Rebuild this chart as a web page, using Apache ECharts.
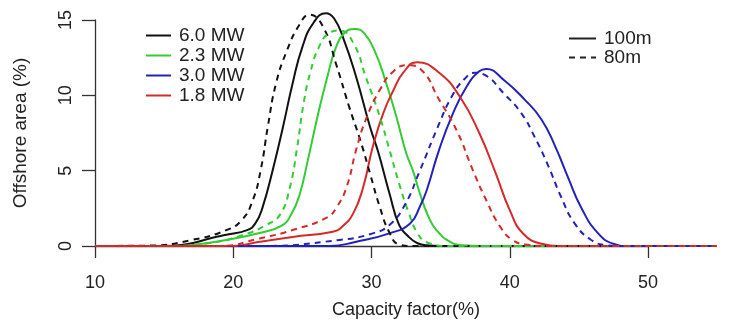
<!DOCTYPE html>
<html>
<head>
<meta charset="utf-8">
<script src="https://cdn.jsdelivr.net/npm/echarts@6/dist/echarts.min.js"></script>
<style>
  html, body {margin: 0; padding: 0; background: #fff;}
  #main {width: 735px; height: 320px;}
</style>
</head>
<body>
<div id="main"></div>
<script>
// turbine types (legend order) and hub heights
const turbines = ['6.0 MW', '2.3 MW', '3.0 MW', '1.8 MW'];
const heights = ['100m', '80m'];
const xTicks = [10, 20, 30, 40, 50];
const yTicks = [0, 5, 10, 15];

// [capacity factor %, offshore area %]
const mw60_100 = [[10,0],[15,0],[16.5,0.1],[18.5,0.55],[19.5,0.75],[21,1.05],[21.6,1.5],[22.1,2.5],[22.9,5.2],[23.6,7.9],[24.3,10.8],[25,13.2],[25.8,14.8],[26.7,15.45],[27.3,15.1],[28,13.7],[28.9,11.2],[29.9,7.9],[30.5,6.2],[31.3,3.5],[32,1.4],[32.6,0.7],[33.3,0.2],[34,0.05],[35,0],[55,0]];
const mw60_80 = [[10,0],[14,0.03],[17,0.4],[19.5,1.05],[20.6,1.7],[21.4,3.0],[22,5.1],[22.5,7.9],[23.1,10.8],[23.9,13.0],[24.8,14.7],[25.5,15.35],[26.5,14.55],[27.5,11.9],[28.4,9.2],[29.2,7.0],[29.9,4.8],[30.6,2.6],[31.3,0.9],[32,0.1],[33,0],[55,0]];
const mw23_100 = [[10,0],[16,0],[17.1,0.07],[19.5,0.4],[21.9,0.86],[23.5,1.35],[24.2,2.1],[24.8,3.4],[25.4,5.7],[26.1,8.6],[26.8,11.2],[27.4,13.1],[28,14.1],[28.8,14.4],[29.5,14.1],[30.3,12.8],[31,11.0],[31.8,8.6],[32.5,6.2],[33,5.0],[33.5,3.5],[34.1,2.0],[34.7,1.06],[35.7,0.28],[36.6,0.05],[38,0],[55,0]];
const mw23_80 = [[10,0],[15,0],[18.3,0.2],[20.7,0.73],[22.4,1.4],[23.4,2.1],[24.1,3.9],[24.6,6.4],[25.1,9.5],[25.6,11.6],[26.2,13.2],[26.9,14.1],[27.7,14.3],[28.7,13.45],[29.6,11.2],[30.6,8.6],[31.3,6.4],[32.05,4.0],[32.7,2.2],[33.3,0.9],[34,0.25],[35.5,0],[55,0]];
const mw30_100 = [[10,0],[27,0],[28.9,0.28],[31.3,0.84],[32.8,1.5],[33.5,2.6],[34,3.7],[34.9,6.4],[35.9,8.8],[36.9,10.6],[37.8,11.6],[38.3,11.75],[39.6,11.0],[41.1,9.7],[42.3,8.4],[43.3,6.6],[44.2,4.6],[45.2,2.5],[46.4,0.84],[47.5,0.15],[48.5,0],[55,0]];
const mw30_80 = [[10,0],[22,0],[27.7,0.4],[30.1,0.84],[31.3,1.4],[32.4,2.7],[33.5,5.0],[34.8,7.9],[35.8,9.9],[36.75,11.1],[37.5,11.5],[38.2,11.35],[39.6,10.1],[40.85,8.8],[41.8,7.25],[42.8,5.3],[43.7,3.3],[44.7,1.5],[45.9,0.4],[46.9,0.07],[48,0],[55,0]];
const mw18_100 = [[10,0],[20,0],[21.9,0.28],[24.3,0.6],[27.2,0.95],[27.9,1.3],[28.7,2.2],[29.4,3.9],[30.1,6.6],[30.85,8.8],[31.6,10.35],[32.3,11.5],[33.3,12.2],[34.9,11.5],[36.4,9.9],[37.8,7.5],[39,4.8],[40,2.4],[41,0.8],[42.4,0.13],[43.5,0],[55,0]];
const mw18_80 = [[10,0],[19,0],[21.9,0.5],[24.3,1.06],[26.8,1.9],[27.5,2.6],[28.2,3.9],[28.9,6.4],[29.6,8.4],[30.6,10.35],[31.6,11.6],[32.6,12.0],[33.6,11.7],[34.9,9.7],[36.15,7.7],[37.35,5.0],[38.3,3.05],[39.3,1.3],[40.2,0.4],[41.2,0.1],[42.5,0],[55,0]];

const colors = ['#111111', '#33cc33', '#2222bb', '#d42a2a'];
const solidData = [mw60_100, mw23_100, mw30_100, mw18_100];
const dashedData = [mw60_80, mw23_80, mw30_80, mw18_80];
const dash = [6, 5];
const font = 'Liberation Sans, Arial, sans-serif';

const chart = echarts.init(document.getElementById('main'));

const curve = (name, data, color, type) => ({
  name,
  type: 'line',
  xAxisIndex: 0,
  yAxisIndex: 0,
  data,
  smooth: 0.5,
  showSymbol: false,
  symbol: 'none',
  silent: true,
  color,
  lineStyle: {color, width: 2, type}
});

const series = [];
turbines.forEach((t, i) => series.push(curve(t, solidData[i], colors[i], 'solid')));
turbines.forEach((t, i) => series.push(curve(t, dashedData[i], colors[i], dash)));
// height legend entries
series.push(curve(heights[0], [], '#222', 'solid'));
series.push(curve(heights[1], [], '#222', dash));

const legendText = {fontSize: 19, color: '#222', lineHeight: 18, padding: [0, 0, 0, 3], fontFamily: font};

chart.setOption({
  animation: false,
  textStyle: {fontFamily: font},
  grid: [
    {left: 95, right: 18, top: 4.9, bottom: 74, outerBoundsMode: 'none', containLabel: false},
    {left: 95, right: 87, top: 20, bottom: 74, outerBoundsMode: 'none', containLabel: false}
  ],
  xAxis: [
    {
      gridIndex: 0, type: 'value', min: 10, max: 55,
      axisLine: {show: false}, axisTick: {show: false},
      axisLabel: {show: false}, splitLine: {show: false},
      name: 'Capacity factor(%)', nameLocation: 'middle', nameGap: 55,
      nameTextStyle: {fontSize: 18, color: '#222', fontFamily: font}
    },
    {
      gridIndex: 1, type: 'value', min: xTicks[0], max: xTicks[xTicks.length - 1], interval: 10,
      axisLine: {show: true, lineStyle: {color: '#333', width: 1.3}},
      axisTick: {show: true, length: 12, lineStyle: {color: '#333', width: 1.3}},
      axisLabel: {fontSize: 18, color: '#222', margin: 28, fontFamily: font},
      splitLine: {show: false}
    }
  ],
  yAxis: [
    {
      gridIndex: 0, type: 'value', min: 0, max: 16,
      axisLine: {show: false}, axisTick: {show: false},
      axisLabel: {show: false}, splitLine: {show: false}
    },
    {
      gridIndex: 1, type: 'value', min: yTicks[0], max: yTicks[yTicks.length - 1], interval: 5,
      axisLine: {show: true, lineStyle: {color: '#333', width: 1.3}},
      axisTick: {show: true, length: 13, lineStyle: {color: '#333', width: 1.3}},
      axisLabel: {fontSize: 18, color: '#222', rotate: 90, margin: 20, fontFamily: font},
      splitLine: {show: false},
      name: 'Offshore area (%)', nameLocation: 'middle', nameGap: 65, nameRotate: 90,
      nameTextStyle: {fontSize: 19, color: '#222', fontFamily: font}
    }
  ],
  legend: [
    {
      data: turbines, orient: 'vertical', left: 140, top: 21,
      itemWidth: 25, itemHeight: 14, itemGap: 1,
      selectedMode: false,
      itemStyle: {opacity: 0},
      textStyle: legendText
    },
    {
      data: heights, orient: 'vertical', left: 563, top: 24,
      itemWidth: 27, itemHeight: 14, itemGap: 0,
      selectedMode: false,
      itemStyle: {opacity: 0},
      textStyle: legendText
    }
  ],
  series
});
</script>
</body>
</html>
